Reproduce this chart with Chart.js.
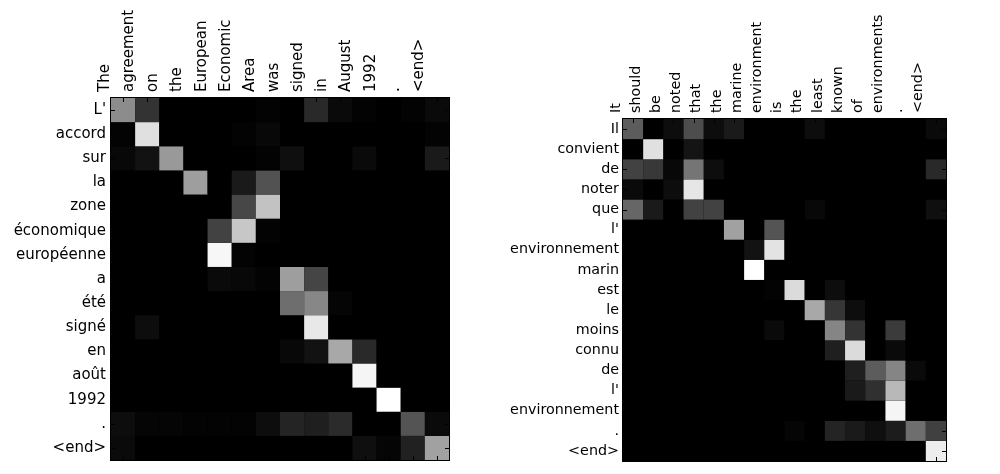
<!DOCTYPE html>
<html>
<head>
<meta charset="utf-8">
<script src="https://cdn.jsdelivr.net/npm/chart.js@4/dist/chart.umd.min.js"></script>
<style>
  html, body { margin: 0; padding: 0; background: #fff; }
  #wrap { position: relative; width: 1000px; height: 474px; }
  canvas { position: absolute; top: 0; }
</style>
</head>
<body>
<div id="wrap">
  <canvas id="left" width="500" height="474" style="left:0;width:500px;height:474px"></canvas>
  <canvas id="right" width="500" height="474" style="left:500px;width:500px;height:474px"></canvas>
</div>
<script>
// ---------- Left example ----------
const leftSource = ["The", "agreement", "on", "the", "European", "Economic", "Area", "was", "signed", "in", "August", "1992", ".", "<end>"];
const leftTarget = ["L'", "accord", "sur", "la", "zone", "économique", "européenne", "a", "été", "signé", "en", "août", "1992", ".", "<end>"];
const leftWeights = [
  // The  agr   on    the   Eur   Eco   Area  was   sig   in    Aug   1992  .     end
  [0.55, 0.20, 0.00, 0.00, 0.00, 0.00, 0.01, 0.00, 0.16, 0.04, 0.01, 0.00, 0.01, 0.04], // L'
  [0.01, 0.88, 0.00, 0.00, 0.00, 0.01, 0.03, 0.00, 0.00, 0.00, 0.00, 0.00, 0.00, 0.01], // accord
  [0.03, 0.07, 0.60, 0.00, 0.00, 0.00, 0.01, 0.06, 0.00, 0.00, 0.04, 0.00, 0.00, 0.10], // sur
  [0.00, 0.00, 0.00, 0.62, 0.00, 0.10, 0.32, 0.00, 0.00, 0.00, 0.00, 0.00, 0.00, 0.00], // la
  [0.00, 0.00, 0.00, 0.00, 0.00, 0.28, 0.76, 0.00, 0.00, 0.00, 0.00, 0.00, 0.00, 0.00], // zone
  [0.00, 0.00, 0.00, 0.00, 0.26, 0.78, 0.01, 0.00, 0.00, 0.00, 0.00, 0.00, 0.00, 0.00], // économique
  [0.00, 0.00, 0.00, 0.00, 0.97, 0.01, 0.00, 0.00, 0.00, 0.00, 0.00, 0.00, 0.00, 0.00], // européenne
  [0.00, 0.00, 0.00, 0.00, 0.04, 0.03, 0.01, 0.62, 0.27, 0.00, 0.00, 0.00, 0.00, 0.00], // a
  [0.00, 0.00, 0.00, 0.00, 0.00, 0.00, 0.00, 0.43, 0.53, 0.02, 0.00, 0.00, 0.00, 0.00], // été
  [0.00, 0.05, 0.00, 0.00, 0.00, 0.00, 0.00, 0.00, 0.91, 0.00, 0.00, 0.00, 0.00, 0.00], // signé
  [0.00, 0.00, 0.00, 0.00, 0.00, 0.00, 0.00, 0.03, 0.07, 0.66, 0.16, 0.00, 0.00, 0.00], // en
  [0.00, 0.00, 0.00, 0.00, 0.00, 0.00, 0.00, 0.00, 0.00, 0.00, 0.96, 0.00, 0.00, 0.00], // août
  [0.00, 0.00, 0.00, 0.00, 0.00, 0.00, 0.00, 0.00, 0.00, 0.00, 0.00, 1.00, 0.00, 0.00], // 1992
  [0.05, 0.02, 0.02, 0.01, 0.01, 0.01, 0.05, 0.14, 0.12, 0.17, 0.00, 0.00, 0.33, 0.04], // .
  [0.04, 0.00, 0.00, 0.00, 0.00, 0.00, 0.00, 0.00, 0.00, 0.00, 0.06, 0.02, 0.13, 0.63]  // <end>
];

// ---------- Right example ----------
const rightSource = ["It", "should", "be", "noted", "that", "the", "marine", "environment", "is", "the", "least", "known", "of", "environments", ".", "<end>"];
const rightTarget = ["Il", "convient", "de", "noter", "que", "l'", "environnement", "marin", "est", "le", "moins", "connu", "de", "l'", "environnement", ".", "<end>"];
const rightWeights = [
  // It   sho   be    not   that  the   mar   env   is    the   lea   kno   of    envs  .     end
  [0.36, 0.00, 0.05, 0.30, 0.05, 0.10, 0.00, 0.00, 0.00, 0.05, 0.00, 0.00, 0.00, 0.00, 0.00, 0.04], // Il
  [0.00, 0.88, 0.00, 0.08, 0.00, 0.00, 0.00, 0.00, 0.00, 0.00, 0.00, 0.00, 0.00, 0.00, 0.00, 0.00], // convient
  [0.26, 0.22, 0.03, 0.46, 0.05, 0.00, 0.00, 0.00, 0.00, 0.00, 0.00, 0.00, 0.00, 0.00, 0.00, 0.16], // de
  [0.04, 0.00, 0.05, 0.90, 0.00, 0.00, 0.00, 0.00, 0.00, 0.00, 0.00, 0.00, 0.00, 0.00, 0.00, 0.00], // noter
  [0.40, 0.10, 0.00, 0.26, 0.26, 0.00, 0.00, 0.00, 0.00, 0.03, 0.00, 0.00, 0.00, 0.00, 0.00, 0.06], // que
  [0.00, 0.00, 0.00, 0.00, 0.00, 0.63, 0.00, 0.33, 0.00, 0.00, 0.00, 0.00, 0.00, 0.00, 0.00, 0.00], // l'
  [0.00, 0.00, 0.00, 0.00, 0.00, 0.00, 0.07, 0.89, 0.00, 0.00, 0.00, 0.00, 0.00, 0.00, 0.00, 0.00], // environnement
  [0.00, 0.00, 0.00, 0.00, 0.00, 0.00, 1.00, 0.00, 0.00, 0.00, 0.00, 0.00, 0.00, 0.00, 0.00, 0.00], // marin
  [0.00, 0.00, 0.00, 0.00, 0.00, 0.00, 0.00, 0.01, 0.86, 0.00, 0.05, 0.00, 0.00, 0.00, 0.00, 0.00], // est
  [0.00, 0.00, 0.00, 0.00, 0.00, 0.00, 0.00, 0.00, 0.00, 0.66, 0.21, 0.05, 0.00, 0.00, 0.00, 0.00], // le
  [0.00, 0.00, 0.00, 0.00, 0.00, 0.00, 0.00, 0.04, 0.00, 0.00, 0.52, 0.20, 0.00, 0.23, 0.00, 0.00], // moins
  [0.00, 0.00, 0.00, 0.00, 0.00, 0.00, 0.00, 0.00, 0.00, 0.00, 0.12, 0.86, 0.00, 0.04, 0.00, 0.00], // connu
  [0.00, 0.00, 0.00, 0.00, 0.00, 0.00, 0.00, 0.00, 0.00, 0.00, 0.00, 0.12, 0.36, 0.52, 0.04, 0.00], // de
  [0.00, 0.00, 0.00, 0.00, 0.00, 0.00, 0.00, 0.00, 0.00, 0.00, 0.00, 0.10, 0.19, 0.72, 0.00, 0.00], // l'
  [0.00, 0.00, 0.00, 0.00, 0.00, 0.00, 0.00, 0.00, 0.00, 0.00, 0.00, 0.00, 0.00, 0.96, 0.00, 0.00], // environnement
  [0.00, 0.00, 0.00, 0.00, 0.00, 0.00, 0.00, 0.00, 0.02, 0.00, 0.14, 0.10, 0.06, 0.11, 0.43, 0.25], // .
  [0.00, 0.00, 0.00, 0.00, 0.00, 0.00, 0.00, 0.00, 0.00, 0.00, 0.00, 0.00, 0.00, 0.00, 0.00, 0.93]  // <end>
];

function gray(v) {
  const c = Math.round(Math.max(0, Math.min(1, v)) * 255);
  return `rgb(${c},${c},${c})`;
}

// black backdrop behind the cells (avoids anti-aliasing seams)
const backdropPlugin = {
  id: 'backdrop',
  beforeDatasetsDraw(chart) {
    const { ctx, chartArea: a } = chart;
    ctx.save();
    ctx.fillStyle = '#000';
    ctx.fillRect(a.left, a.top, a.right - a.left, a.bottom - a.top);
    ctx.restore();
  }
};

// frame + inward matplotlib-like tick marks
const framePlugin = {
  id: 'frame',
  afterDraw(chart) {
    const { ctx, chartArea: a, scales } = chart;
    ctx.save();
    ctx.strokeStyle = '#000';
    ctx.lineWidth = 1;
    ctx.beginPath();
    const tl = 4;
    scales.x.ticks.forEach((t, i) => {
      const px = Math.round(scales.x.getPixelForTick(i)) + 0.5;
      ctx.moveTo(px, a.top); ctx.lineTo(px, a.top + tl);
      ctx.moveTo(px, a.bottom); ctx.lineTo(px, a.bottom - tl);
    });
    scales.y.ticks.forEach((t, i) => {
      const py = Math.round(scales.y.getPixelForValue(t.value)) + 0.5;
      ctx.moveTo(a.left, py); ctx.lineTo(a.left + tl, py);
      ctx.moveTo(a.right, py); ctx.lineTo(a.right - tl, py);
    });
    ctx.stroke();
    ctx.strokeRect(Math.round(a.left) - 0.5, Math.round(a.top) - 0.5,
                   Math.round(a.right - a.left) + 1, Math.round(a.bottom - a.top) + 1);
    ctx.restore();
  }
};

function makeHeatmap(canvasId, source, target, weights, geom) {
  const datasets = target.map((row, r) => ({
    label: row,
    data: source.map(() => [r, r + 1]),
    backgroundColor: weights[r].map(gray),
    borderWidth: 0,
    inflateAmount: 0,
    barPercentage: 1,
    categoryPercentage: 1,
    grouped: false
  }));
  return new Chart(document.getElementById(canvasId), {
    type: 'bar',
    data: { labels: source, datasets },
    options: {
      responsive: false,
      animation: false,
      devicePixelRatio: 1,
      layout: { padding: { left: 0, top: 0, right: geom.padRight, bottom: geom.padBottom } },
      plugins: { legend: { display: false }, tooltip: { enabled: false } },
      scales: {
        x: {
          type: 'category',
          position: 'top',
          offset: true,
          grid: { display: false, drawTicks: false },
          border: { display: false },
          ticks: {
            autoSkip: false, minRotation: 90, maxRotation: 90, padding: geom.xPad,
            color: '#000', font: { family: 'DejaVu Sans', size: geom.font }
          },
          afterFit(s) { s.height = geom.top; }
        },
        y: {
          type: 'linear',
          reverse: true,
          min: 0,
          max: target.length,
          grid: { display: false, drawTicks: false },
          border: { display: false },
          afterBuildTicks(s) { s.ticks = target.map((_, i) => ({ value: i + 0.5 })); },
          ticks: {
            autoSkip: false, padding: geom.yPad,
            color: '#000', font: { family: 'DejaVu Sans', size: geom.font },
            callback: (v, i) => target[i]
          },
          afterFit(s) { s.width = geom.left; }
        }
      }
    },
    plugins: [backdropPlugin, framePlugin]
  });
}

makeHeatmap('left', leftSource, leftTarget, leftWeights,
  { left: 111, top: 98, padRight: 51, padBottom: 13, font: 15, xPad: 6, yPad: 5 });
makeHeatmap('right', rightSource, rightTarget, rightWeights,
  { left: 123, top: 119, padRight: 54, padBottom: 13, font: 14.3, xPad: 6, yPad: 4 });
</script>
</body>
</html>
